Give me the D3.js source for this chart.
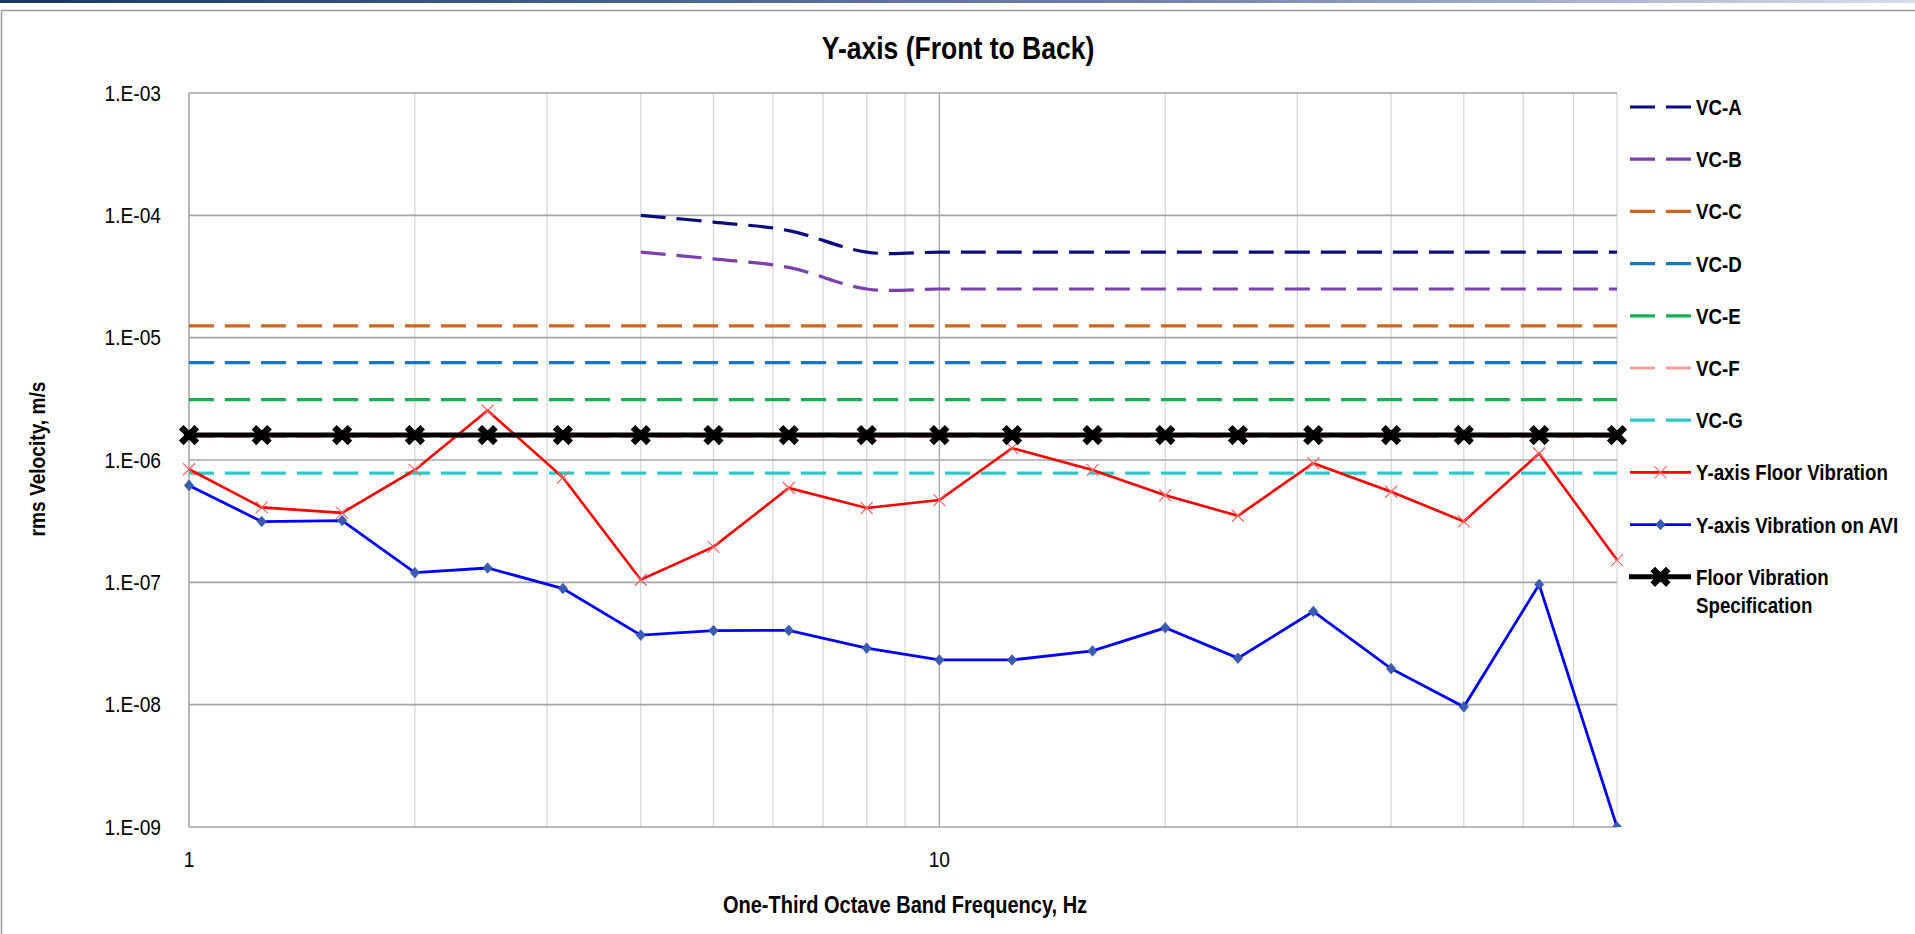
<!DOCTYPE html>
<html><head><meta charset="utf-8">
<script src="https://cdn.jsdelivr.net/npm/d3@7"></script>
<style>
html,body{margin:0;padding:0;background:#fff;overflow:hidden}
svg{display:block}
</style></head><body>
<svg id="chart" width="1915" height="934"></svg>
<script>
// ---------------- data ----------------
const freqs = [1, 1.25, 1.6, 2, 2.5, 3.15, 4, 5, 6.3, 8, 10, 12.5, 16, 20, 25, 31.5, 40, 50, 63, 80];
const vcFreqsAB = [4, 5, 6.3, 8, 10, 12.5, 16, 20, 25, 31.5, 40, 50, 63, 80];
const vcA = [1.0e-4, 8.8e-5, 7.5e-5, 5.0e-5, 5.0e-5, 5.0e-5, 5.0e-5, 5.0e-5, 5.0e-5, 5.0e-5, 5.0e-5, 5.0e-5, 5.0e-5, 5.0e-5];
const vcB = [5.0e-5, 4.4e-5, 3.75e-5, 2.5e-5, 2.5e-5, 2.5e-5, 2.5e-5, 2.5e-5, 2.5e-5, 2.5e-5, 2.5e-5, 2.5e-5, 2.5e-5, 2.5e-5];
const vcC = [1.25e-5, 1.25e-5, 1.25e-5, 1.25e-5, 1.25e-5, 1.25e-5, 1.25e-5, 1.25e-5, 1.25e-5, 1.25e-5, 1.25e-5, 1.25e-5, 1.25e-5, 1.25e-5, 1.25e-5, 1.25e-5, 1.25e-5, 1.25e-5, 1.25e-5, 1.25e-5];
const vcD = [6.25e-6, 6.25e-6, 6.25e-6, 6.25e-6, 6.25e-6, 6.25e-6, 6.25e-6, 6.25e-6, 6.25e-6, 6.25e-6, 6.25e-6, 6.25e-6, 6.25e-6, 6.25e-6, 6.25e-6, 6.25e-6, 6.25e-6, 6.25e-6, 6.25e-6, 6.25e-6];
const vcE = [3.12e-6, 3.12e-6, 3.12e-6, 3.12e-6, 3.12e-6, 3.12e-6, 3.12e-6, 3.12e-6, 3.12e-6, 3.12e-6, 3.12e-6, 3.12e-6, 3.12e-6, 3.12e-6, 3.12e-6, 3.12e-6, 3.12e-6, 3.12e-6, 3.12e-6, 3.12e-6];
const vcF = [1.56e-6, 1.56e-6, 1.56e-6, 1.56e-6, 1.56e-6, 1.56e-6, 1.56e-6, 1.56e-6, 1.56e-6, 1.56e-6, 1.56e-6, 1.56e-6, 1.56e-6, 1.56e-6, 1.56e-6, 1.56e-6, 1.56e-6, 1.56e-6, 1.56e-6, 1.56e-6];
const vcG = [7.8e-7, 7.8e-7, 7.8e-7, 7.8e-7, 7.8e-7, 7.8e-7, 7.8e-7, 7.8e-7, 7.8e-7, 7.8e-7, 7.8e-7, 7.8e-7, 7.8e-7, 7.8e-7, 7.8e-7, 7.8e-7, 7.8e-7, 7.8e-7, 7.8e-7, 7.8e-7];
const floorVib = [8.4e-7, 4.1e-7, 3.7e-7, 8.3e-7, 2.54e-6, 7.2e-7, 1.05e-7, 1.95e-7, 5.9e-7, 4.05e-7, 4.7e-7, 1.25e-6, 8.3e-7, 5.15e-7, 3.5e-7, 9.4e-7, 5.5e-7, 3.15e-7, 1.13e-6, 1.52e-7];
const aviVib = [6.2e-7, 3.14e-7, 3.2e-7, 1.2e-7, 1.31e-7, 8.9e-8, 3.7e-8, 4.03e-8, 4.05e-8, 2.9e-8, 2.32e-8, 2.32e-8, 2.75e-8, 4.25e-8, 2.4e-8, 5.78e-8, 1.97e-8, 9.6e-9, 9.6e-8, 1.0e-9];
const floorSpec = [1.6e-6, 1.6e-6, 1.6e-6, 1.6e-6, 1.6e-6, 1.6e-6, 1.6e-6, 1.6e-6, 1.6e-6, 1.6e-6, 1.6e-6, 1.6e-6, 1.6e-6, 1.6e-6, 1.6e-6, 1.6e-6, 1.6e-6, 1.6e-6, 1.6e-6, 1.6e-6];

const yTickValues = [1e-3, 1e-4, 1e-5, 1e-6, 1e-7, 1e-8, 1e-9];
const yTickLabels = ["1.E-03", "1.E-04", "1.E-05", "1.E-06", "1.E-07", "1.E-08", "1.E-09"];
const xTickValues = [1, 10];
const xTickLabels = ["1", "10"];

const titleText = "Y-axis (Front to Back)";
const xTitle = "One-Third Octave Band Frequency, Hz";
const yTitle = "rms Velocity, m/s";

const vcNames = ["VC-A", "VC-B", "VC-C", "VC-D", "VC-E", "VC-F", "VC-G"];
const vcColors = ["#0c0c80", "#7a3fb0", "#d2661e", "#1478c8", "#16b050", "#f4a09a", "#2fc8c8"];

// ---------------- layout ----------------
const W = 1915, H = 934;
const M = {left: 189, right: 1617, top: 93, bottom: 827};

const svg = d3.select("#chart");

const x = d3.scaleLog().domain([1, 80]).range([M.left, M.right]);
const y = d3.scaleLog().domain([1e-9, 1e-3]).range([M.bottom, M.top]);

// top band + frame
const grad = svg.append("defs").append("linearGradient").attr("id", "topband").attr("x1", "0").attr("x2", "1");
grad.append("stop").attr("offset", "0").attr("stop-color", "#1d3466");
grad.append("stop").attr("offset", "0.6").attr("stop-color", "#6f82aa");
grad.append("stop").attr("offset", "1").attr("stop-color", "#d6dcea");
svg.append("rect").attr("x", 0).attr("y", 0).attr("width", W).attr("height", 3).attr("fill", "url(#topband)");
svg.append("line").attr("x1", 1).attr("x2", W).attr("y1", 10.5).attr("y2", 10.5).attr("stroke", "#9a9a9a").attr("stroke-width", 1.5);
svg.append("line").attr("x1", 1.5).attr("x2", 1.5).attr("y1", 10).attr("y2", H).attr("stroke", "#9a9a9a").attr("stroke-width", 1.5);

// grid
const g = svg.append("g");
const minorX = x.ticks().filter(v => v > 1 && v < 80 && v !== 10);
g.selectAll("line.vminor").data(minorX).join("line")
  .attr("x1", d => x(d)).attr("x2", d => x(d)).attr("y1", M.top).attr("y2", M.bottom)
  .attr("stroke", "#d4d4d4").attr("stroke-width", 1.2);
g.append("line").attr("x1", x(10)).attr("x2", x(10)).attr("y1", M.top).attr("y2", M.bottom)
  .attr("stroke", "#a8a8a8").attr("stroke-width", 1.3);
g.append("line").attr("x1", M.right).attr("x2", M.right).attr("y1", M.top).attr("y2", M.bottom)
  .attr("stroke", "#d4d4d4").attr("stroke-width", 1.2);
g.selectAll("line.h").data(yTickValues).join("line")
  .attr("x1", M.left).attr("x2", M.right).attr("y1", d => y(d)).attr("y2", d => y(d))
  .attr("stroke", "#a6a6a6").attr("stroke-width", 1.6);
g.append("line").attr("x1", M.left).attr("x2", M.left).attr("y1", M.top).attr("y2", M.bottom)
  .attr("stroke", "#a6a6a6").attr("stroke-width", 1.6);

// text helper (horizontally condensed)
const font = "'Liberation Sans', Arial, sans-serif";
function ctext(parent, tx, ty, txt, size, weight, anchor, sx) {
  const gg = parent.append("g").attr("transform", `translate(${tx},${ty}) scale(${sx},1)`);
  gg.append("text").attr("x", 0).attr("y", 0).attr("text-anchor", anchor)
    .attr("font-family", font).attr("font-weight", weight).attr("font-size", size)
    .attr("fill", "#000").text(txt);
  return gg;
}
yTickValues.forEach((v, i) => ctext(svg, 161, y(v) + 7.8, yTickLabels[i], 22, "normal", "end", 0.87));
xTickValues.forEach((v, i) => ctext(svg, x(v), 867, xTickLabels[i], 22, "normal", "middle", 0.87));

ctext(svg, 958, 58.5, titleText, 30.5, "bold", "middle", 0.87);
ctext(svg, 905, 913, xTitle, 23, "bold", "middle", 0.87);
svg.append("g").attr("transform", "translate(45,459) rotate(-90)")
  .call(s => ctext(s, 0, 0, yTitle, 22, "bold", "middle", 0.87));

// series
const plot = svg.append("g");
const smooth = d3.line().x(d => x(d[0])).y(d => y(d[1])).curve(d3.curveCatmullRom.alpha(0.5));
const straight = d3.line().x(d => x(d[0])).y(d => y(d[1]));
const dash = "25,11";

const vcData = [
  [vcFreqsAB, vcA], [vcFreqsAB, vcB], [freqs, vcC], [freqs, vcD], [freqs, vcE], [freqs, vcF], [freqs, vcG]
];
vcData.forEach(([fx, vals], i) => {
  plot.append("path").attr("d", smooth(fx.map((f, j) => [f, vals[j]])))
    .attr("fill", "none").attr("stroke", vcColors[i]).attr("stroke-width", 3.2)
    .attr("stroke-dasharray", dash);
});

svg.append("clipPath").attr("id", "clipplot").append("rect")
  .attr("x", M.left - 20).attr("y", M.top - 20).attr("width", M.right - M.left + 40).attr("height", M.bottom - M.top + 20);

const floorPts = freqs.map((f, j) => [f, floorVib[j]]);
plot.append("path").attr("d", straight(floorPts)).attr("fill", "none").attr("stroke", "#ff0000").attr("stroke-width", 2.6);
const xMark = s => `M${-s},${-s}L${s},${s}M${-s},${s}L${s},${-s}`;
plot.selectAll("path.fx").data(floorPts).join("path")
  .attr("transform", d => `translate(${x(d[0])},${y(d[1])})`).attr("d", xMark(6))
  .attr("stroke", "#ff6666").attr("stroke-width", 1.2).attr("fill", "none");

const aviPts = freqs.map((f, j) => [f, aviVib[j]]);
const aviG = plot.append("g").attr("clip-path", "url(#clipplot)");
aviG.append("path").attr("d", straight(aviPts)).attr("fill", "none").attr("stroke", "#0000ff").attr("stroke-width", 2.8);
const diamond = s => `M0,${-s * 1.15}L${s},0L0,${s * 1.15}L${-s},0Z`;
aviG.selectAll("path.dm").data(aviPts).join("path")
  .attr("transform", d => `translate(${x(d[0])},${y(d[1])})`).attr("d", diamond(4.6))
  .attr("fill", "#3a5bb0").attr("stroke", "#3a5bb0").attr("stroke-width", 0.8);

const specPts = freqs.map((f, j) => [f, floorSpec[j]]);
plot.append("path").attr("d", straight(specPts)).attr("fill", "none").attr("stroke", "#000").attr("stroke-width", 5);
const specMark = s => `M${-s},${-s}L${s},${s}M${-s},${s}L${s},${-s}`;
function drawSpec(sel) {
  sel.append("path").attr("d", specMark(5.5))
    .attr("stroke", "#000").attr("stroke-width", 6.5).attr("stroke-linecap", "square").attr("fill", "none");
  sel.append("rect").attr("x", -5).attr("y", -5).attr("width", 10).attr("height", 10).attr("fill", "#000");
}
plot.selectAll("g.sm").data(specPts).join("g")
  .attr("transform", d => `translate(${x(d[0])},${y(d[1])})`).each(function () { drawSpec(d3.select(this)); });

// legend
const legend = svg.append("g");
const LX0 = 1630, LX1 = 1691, LT = 1696, LY0 = 107, LDY = 52.2;
const LFS = 22, LSX = 0.85;
vcNames.forEach((n, i) => {
  const yy = LY0 + i * LDY;
  legend.append("line").attr("x1", LX0).attr("x2", LX1).attr("y1", yy).attr("y2", yy)
    .attr("stroke", vcColors[i]).attr("stroke-width", 3.2).attr("stroke-dasharray", dash);
  ctext(legend, LT, yy + 8, n, LFS, "bold", "start", LSX);
});
{
  let yy = LY0 + 7 * LDY;
  legend.append("line").attr("x1", LX0).attr("x2", LX1).attr("y1", yy).attr("y2", yy).attr("stroke", "#ff0000").attr("stroke-width", 2.6);
  legend.append("path").attr("transform", `translate(${(LX0 + LX1) / 2},${yy})`).attr("d", xMark(6))
    .attr("stroke", "#ff6666").attr("stroke-width", 1.2).attr("fill", "none");
  ctext(legend, LT, yy + 8, "Y-axis Floor Vibration", LFS, "bold", "start", LSX);
  yy = LY0 + 8 * LDY;
  legend.append("line").attr("x1", LX0).attr("x2", LX1).attr("y1", yy).attr("y2", yy).attr("stroke", "#0000ff").attr("stroke-width", 2.8);
  legend.append("path").attr("transform", `translate(${(LX0 + LX1) / 2},${yy})`).attr("d", diamond(4.6))
    .attr("fill", "#3a5bb0").attr("stroke", "#3a5bb0").attr("stroke-width", 0.8);
  ctext(legend, LT, yy + 8, "Y-axis Vibration on AVI", LFS, "bold", "start", LSX);
  yy = LY0 + 9 * LDY;
  legend.append("line").attr("x1", LX0 - 1).attr("x2", LX1).attr("y1", yy).attr("y2", yy).attr("stroke", "#000").attr("stroke-width", 5);
  legend.append("g").attr("transform", `translate(${(LX0 + LX1) / 2},${yy})`).call(drawSpec);
  ctext(legend, LT, yy + 8, "Floor Vibration", LFS, "bold", "start", LSX);
  ctext(legend, LT, yy + 8 + 28, "Specification", LFS, "bold", "start", LSX);
}
</script>
</body></html>
